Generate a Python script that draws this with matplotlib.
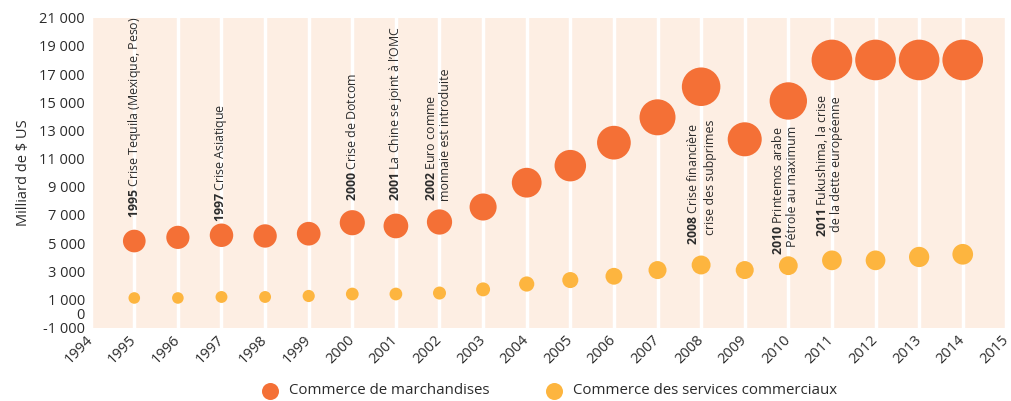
import matplotlib
matplotlib.use('Agg')
import matplotlib.pyplot as plt
from matplotlib.ticker import FuncFormatter, FixedLocator
import numpy as np

# données (milliards de $ US)
years = list(range(1995, 2015))
marchandises = [5150, 5410, 5560, 5510, 5670, 6450, 6220, 6500, 7565, 9290,
                10500, 12130, 13930, 16100, 12370, 15090, 18000, 18000, 18000, 18000]
services = [1110, 1110, 1180, 1180, 1250, 1390, 1390, 1460, 1720, 2100,
            2380, 2650, 3090, 3450, 3090, 3400, 3780, 3780, 4020, 4210]

series_labels = ['Commerce de marchandises', 'Commerce des services commerciaux']
y_ticks = [-1000, 0, 1000, 3000, 5000, 7000, 9000, 11000, 13000, 15000,
           17000, 19000, 21000]

# événements : année, lignes de texte
event_years = [1995, 1997, 2000, 2001, 2002, 2008, 2010, 2011]
event_lines = [
    [r'$\mathbf{1995}$ Crise Tequila (Mexique, Peso)'],
    [r'$\mathbf{1997}$ Crise Asiatique'],
    [r'$\mathbf{2000}$ Crise de Dotcom'],
    [r'$\mathbf{2001}$ La Chine se joint à l’OMC'],
    [r'$\mathbf{2002}$ Euro comme', 'monnaie est introduite'],
    [r'$\mathbf{2008}$ Crise financière', 'crise des subprimes'],
    [r'$\mathbf{2010}$ Printemos arabe', 'Pétrole au maximum'],
    [r'$\mathbf{2011}$ Fukushima, la crise', 'de la dette européenne'],
]
# placement (bas du texte en unités y, décalage horizontal en px)
event_bottoms = [[6800], [6520], [8000], [8000], [8000, 8000],
                 [4870, 5580], [4160, 4750], [5410, 5770]]
event_dx = [[0], [0], [0], [0], [-7.6, 6.4], [-7.7, 9.3], [-10, 4.3], [-9.8, 4.5]]

ORANGE = '#F47036'
JAUNE = '#FDB53F'
FOND = '#FDEEE3'
TEXTE = '#2b2b2b'

plt.rcParams['font.family'] = ['Open Sans', 'DejaVu Sans']
plt.rcParams['mathtext.fontset'] = 'custom'
plt.rcParams['mathtext.rm'] = 'Open Sans'
plt.rcParams['mathtext.bf'] = 'Open Sans:bold'


def bubble_size(v):
    d_px = 2 + 0.288 * np.sqrt(np.asarray(v, dtype=float))
    return (d_px * 0.72) ** 2


fig = plt.figure(figsize=(10.12, 4.01), dpi=100)
ax = fig.add_axes([0.0896, 0.1828, 0.9944 - 0.0896, 0.9559 - 0.1828])
ax.set_facecolor(FOND)
for s in ax.spines.values():
    s.set_visible(False)

ax.set_xlim(1994, 2015)
ax.set_ylim(-1000, 21000)
ax.xaxis.set_major_locator(FixedLocator(range(1994, 2016)))
ax.yaxis.set_major_locator(FixedLocator(y_ticks))
ax.yaxis.set_major_formatter(FuncFormatter(lambda v, p: f'{int(v):,}'.replace(',', ' ')))
ax.grid(axis='x', color='white', linewidth=2.5)
ax.set_axisbelow(True)
ax.tick_params(length=0, labelsize=10.5, colors=TEXTE, pad=4)
for lbl in ax.get_xticklabels():
    lbl.set_rotation(45)
    lbl.set_ha('right')
    lbl.set_va('center')
    lbl.set_rotation_mode('anchor')
ax.tick_params(axis='x', pad=7)
ax.set_ylabel('Milliard de \\$ US', fontsize=10.5, color=TEXTE, labelpad=6)

sc1 = ax.scatter(years, marchandises, s=bubble_size(marchandises), color=ORANGE,
                 linewidths=0, zorder=3, label=series_labels[0])
sc2 = ax.scatter(years, services, s=bubble_size(services), color=JAUNE,
                 linewidths=0, zorder=3, label=series_labels[1])

for yr, lines, bottoms, dxs in zip(event_years, event_lines, event_bottoms, event_dx):
    for txt, yb, dx in zip(lines, bottoms, dxs):
        ax.annotate(txt, xy=(yr, yb), xytext=(dx * 0.72, 0), textcoords='offset points',
                    rotation=90, ha='center', va='bottom', fontsize=8.9,
                    color=TEXTE, zorder=4)

leg = fig.legend(handles=[sc1, sc2], labels=series_labels, loc='center',
                 bbox_to_anchor=(546 / 1012, 1 - 391 / 401), ncol=2, frameon=False,
                 fontsize=10.8, columnspacing=3.3, handletextpad=0.25, scatterpoints=1,
                 labelcolor=TEXTE, borderaxespad=0, borderpad=0)
for h in leg.legend_handles:
    h.set_sizes([150])

fig.savefig('out.png', dpi=100)
